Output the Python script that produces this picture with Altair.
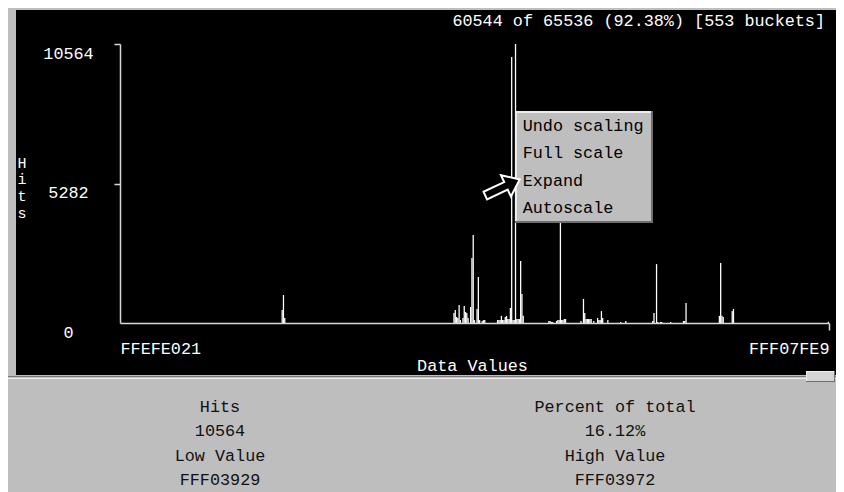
import altair as alt
import pandas as pd

# ---------------- data ----------------
n_buckets = 553
y_max = 10564
y_ticks = [0, 5282, 10564]
x_labels = ["FFEFE021", "FFF07FE9"]
shown_hits, total_hits = 60544, 65536

bucket_ids = [126, 127, 128,
              260, 261, 262, 263, 264, 265, 267, 268, 269, 270, 271, 273, 274, 275, 276,
              278, 279, 280, 282, 283, 284,
              294, 295, 296, 297, 298, 299, 300, 301, 302, 303, 304, 305, 306, 307, 308,
              309, 310, 311, 312, 313, 314,
              334, 335, 336, 337, 340, 341, 342, 343, 344, 345, 346, 347,
              359, 361, 362, 363, 364, 365, 366, 367, 369, 372, 373, 374, 375, 376, 380, 390, 394,
              415, 416, 418, 419, 421, 422, 429, 439, 440, 441,
              467, 468, 469, 470, 477, 478, 552]
bucket_hits = [490, 1060, 190,
               380, 490, 230, 190, 680, 110, 190, 640, 420, 380, 190, 610, 2460, 3330, 110,
               530, 1740, 110, 80, 110, 110,
               110, 110, 110, 270, 110, 110, 230, 270, 150, 150, 570, 10070, 110, 110, 10564,
               150, 150, 150, 2350, 1100, 270,
               75, 75, 40, 40, 75, 110, 110, 4500, 110, 110, 150, 150,
               75, 910, 380, 150, 150, 150, 150, 150, 75, 190, 110, 110, 450, 190, 110, 40, 75,
               75, 380, 2230, 40, 40, 40, 40, 75, 75, 760,
               270, 2270, 270, 230, 450, 530, 50]

menu_items = ["Undo scaling", "Full scale", "Expand", "Autoscale"]
info_left = ["Hits", "10564", "Low Value", "FFF03929"]
info_right = ["Percent of total", "16.12%", "High Value", "FFF03972"]

# ---------------- layout / style ----------------
W, H = 828, 484
FONT = "Liberation Mono"
FS = 16.8
GRAY = "#bebebe"
AXIS = "#d8d8d8"
X0, X1 = 112, 821      # plot left/right (chart px)
Y0, Y1 = 315, 36       # plot bottom/top (chart px)

df = pd.DataFrame({"bucket": bucket_ids, "hits": bucket_hits})
df["bucket_end"] = df["bucket"] + 1

one = alt.Data(values=[{"k": 0}])


def box(x1, x2, y1, y2, color):
    return alt.Chart(one).mark_rect(color=color).encode(
        x=alt.value(x1), x2=alt.value(x2), y=alt.value(y1), y2=alt.value(y2))


def label(text, x, y, align="left", color="white", line_height=None):
    kw = {}
    if line_height is not None:
        kw["lineHeight"] = line_height
    return alt.Chart(one).mark_text(
        text=text, align=align, baseline="alphabetic", font=FONT, fontSize=FS,
        color=color, **kw).encode(x=alt.value(x), y=alt.value(y))


panel = box(8, W, 2, 367, "black")

x_axis = alt.Axis(
    values=[0, n_buckets],
    labelExpr=f"datum.value == 0 ? '{x_labels[0]}' : '{x_labels[1]}'",
    offset=-(H - Y0), orient="bottom", zindex=1,
    tickSize=7, tickColor=AXIS, tickWidth=1.5,
    tickOpacity=alt.condition("datum.value == 0", alt.value(0), alt.value(1)),
    domainColor=AXIS, domainWidth=1.5, grid=False,
    labelFont=FONT, labelFontSize=FS, labelColor="white", labelBaseline="alphabetic",
    labelPadding=23, labelFlush=True, labelOverlap=False, labelBound=False,
    title="Data Values", titleFont=FONT, titleFontSize=FS, titleFontWeight="normal",
    titleColor="white", titleBaseline="alphabetic", titleX=464, titleY=47,
    titleAlign="center", titlePadding=0,
)
y_axis = alt.Axis(
    values=y_ticks, orient="left", offset=-X0, zindex=1, format="d",
    tickSize=6, tickColor=AXIS, tickWidth=1.5,
    tickOpacity=alt.condition("datum.value == 0", alt.value(0), alt.value(1)),
    domainColor=AXIS, domainWidth=1.5, grid=False,
    labelFont=FONT, labelFontSize=FS, labelColor="white", labelBaseline="alphabetic",
    labelAlign="center", labelPadding=46, labelOffset=14, labelOverlap=False,
    labelBound=False, labelFlush=False,
    title=["H", "i", "t", "s"], titleAngle=0, titleFont=FONT, titleFontSize=15,
    titleFontWeight="normal", titleColor="white", titleAlign="center",
    titleBaseline="alphabetic", titleX=13.5 - X0, titleY=159, titleLineHeight=16.7,
)

bars = alt.Chart(df).mark_rect(color="white").encode(
    x=alt.X("bucket:Q", scale=alt.Scale(domain=[0, n_buckets], range=[X0, X1], nice=False, zero=False), axis=x_axis),
    x2="bucket_end:Q",
    y=alt.Y("hits:Q", scale=alt.Scale(domain=[0, y_max], range=[Y0, Y1], nice=False, zero=False), axis=y_axis),
    y2=alt.datum(0),
)

top_text = label(
    f"{shown_hits} of {total_hits} ({shown_hits / total_hits * 100:.2f}%) [{n_buckets} buckets]",
    817, 18, align="right")

# popup menu
menu = [
    box(507, 645, 103, 215, "#6e6e6e"),
    box(507, 643, 103, 213, "#ececec"),
    box(509, 643, 105, 213, GRAY),
    label(menu_items, 514.7, 123, color="black", line_height=27.3),
]

arrow_path = "M -1 -0.22 L 0.2 -0.22 L 0.2 -0.62 L 1 0 L 0.2 0.62 L 0.2 0.22 L -1 0.22 Z"
arrow = alt.Chart(one).mark_point(
    shape=arrow_path, filled=True, fill="black", stroke="white", strokeWidth=2,
    opacity=1, size=1444, angle=335,
).encode(x=alt.value(494.5), y=alt.value(179.5))

# separator + slider
sep = [
    box(0, W, 368, 369.5, "#7a7a7a"),
    box(0, W, 369.5, 371, "#ececec"),
    box(798, 827, 363, 374, "#6e6e6e"),
    box(798, 826, 363, 373, "#f0f0f0"),
    box(799, 826, 364, 373, "#d4d4d4"),
]

info = [
    label(info_left, 212, 404, align="center", color="#111111", line_height=24.4),
    label(info_right, 607, 404, align="center", color="#111111", line_height=24.4),
]

chart = alt.layer(
    panel, bars, top_text, *menu, arrow, *sep, *info
).properties(
    width=W, height=H, padding=0,
    autosize=alt.AutoSizeParams(type="none"),
    background=GRAY,
).configure_view(strokeWidth=0)

chart.save("out.html", embed_options={"renderer": "svg", "actions": False})
